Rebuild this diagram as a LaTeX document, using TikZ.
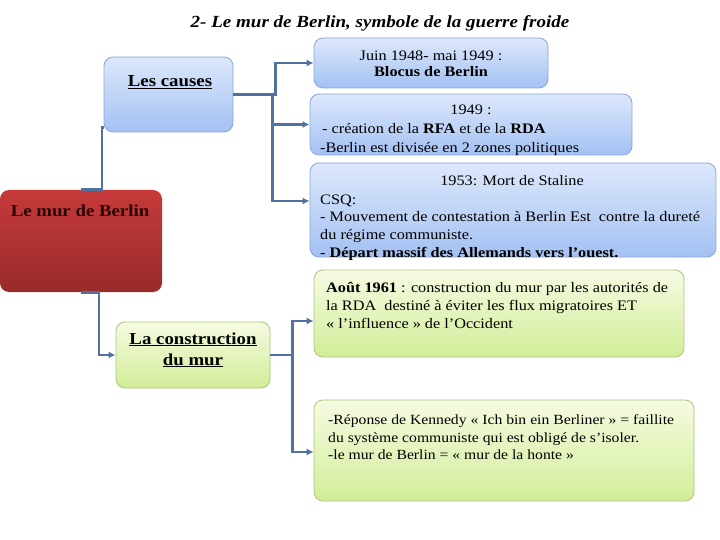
\documentclass[tikz,border=0pt]{standalone}
\usepackage{fontspec}
\setmainfont{Liberation Serif}[FakeStretch=1.12]
\usetikzlibrary{arrows.meta}
\definecolor{bluetop}{HTML}{DDE8FB}
\definecolor{bluebot}{HTML}{A3C1F3}
\definecolor{blueline}{HTML}{8AA6D6}
\definecolor{greentop}{HTML}{F6FBE2}
\definecolor{greenbot}{HTML}{D2ED98}
\definecolor{greenline}{HTML}{A9C67E}
\definecolor{redtop}{HTML}{C63A3A}
\definecolor{redbot}{HTML}{982B2B}
\definecolor{conncol}{HTML}{4F72A0}
\definecolor{redtext}{HTML}{2A0505}
\begin{document}
\begin{tikzpicture}[x=1pt,y=-1pt,
  box/.style={rounded corners=9pt, line width=0.8pt, inner sep=0pt},
  bluebox/.style={box, draw=blueline, top color=bluetop, bottom color=bluebot},
  greenbox/.style={box, draw=greenline, top color=greentop, bottom color=greenbot},
  redbox/.style={box, draw=none, top color=redtop, bottom color=redbot},
  conn/.style={draw=conncol, line width=2.2pt},
  arr/.style={conn, -{Latex[length=7pt,width=7pt]}},
  txt/.style={inner sep=0pt, anchor=base west, font=\fontsize{14.5}{18}\selectfont},
  ctxt/.style={txt, anchor=base},
  rtxt/.style={txt, font=\fontsize{14}{18}\selectfont},
  head/.style={inner sep=0pt, anchor=base, font=\fontsize{16.8}{20}\selectfont\bfseries}
]
\useasboundingbox (0,0) rectangle (720,540);

% title
\node[inner sep=0pt, anchor=base, font=\fontsize{17}{20}\selectfont\bfseries\itshape] (title) at (380,28) {2- Le mur de Berlin, symbole de la guerre froide};

% boxes
\node[bluebox, minimum width=129pt, minimum height=75pt] (causes) at (168.5,94.5) {};
\node[bluebox, minimum width=234pt, minimum height=50pt] (blocus) at (431,63) {};
\node[bluebox, minimum width=322pt, minimum height=61pt] (b1949) at (471,124.5) {};
\node[bluebox, minimum width=406pt, minimum height=94pt] (b1953) at (513,210) {};
\node[redbox, minimum width=162pt, minimum height=102pt] (red) at (81,241) {};
\node[greenbox, minimum width=154pt, minimum height=66pt] (constr) at (193,355) {};
\node[greenbox, minimum width=370pt, minimum height=87pt] (aout) at (499,313.5) {};
\node[greenbox, minimum width=380pt, minimum height=101pt] (rep) at (504,450.5) {};

% connectors
\draw[conn] (red.north) -- ++(21,0) |- ([yshift=-33pt]causes.west);
\draw[arr] (red.south) -- ++(18,0) |- (constr.west);
\draw[arr] (causes.east) -- ++(42,0) |- (blocus.west);
\draw[conn] (causes.east) -- ++(39,0) coordinate (j1);
\draw[arr] (j1) |- (b1949.west);
\draw[arr] (j1) |- ([yshift=9pt]b1953.west);
\draw[conn] (constr.east) -- ++(22,0) coordinate (j2);
\draw[arr] (j2) |- ([yshift=-7.5pt]aout.west);
\draw[arr] (j2) |- ([yshift=-1.5pt]rep.west);

% texts
\node[head] (tcauses) at (170,87) {\underline{Les causes}};
\node[head, text=redtext] (tred) at (80,216) {Le mur de Berlin};
\node[head] (tcon1) at (193,344) {\underline{La construction}};
\node[head] (tcon2) at (193,365) {\underline{du mur}};

\node[ctxt] (bl1) at (431,61) {Juin 1948- mai 1949 :};
\node[ctxt] (bl2) at (431,77) {\bfseries Blocus de Berlin};

\node[ctxt] (n1) at (471,115) {1949 :};
\node[txt] (n2) at (322,134) {- création de la \textbf{RFA} et de la \textbf{RDA}};
\node[txt] (n3) at (320,153) {-Berlin est divisée en 2 zones politiques};

\node[ctxt] (s1) at (512,186) {1953: Mort de Staline};
\node[txt] (s2) at (320,205) {CSQ:};
\node[txt] (s3) at (320,222) {- Mouvement de contestation à Berlin Est\ \ contre la dureté};
\node[txt] (s4) at (320,240) {du régime communiste.};
\node[txt] (s5) at (320,257) {\bfseries - Départ massif des Allemands vers l’ouest.};

\node[txt] (a1) at (326,292) {\textbf{Août 1961} : construction du mur par les autorités de};
\node[txt] (a2) at (326,310) {la RDA\ \ destiné à éviter les flux migratoires ET};
\node[txt] (a3) at (326,328) {« l’influence » de l’Occident};

\node[rtxt] (r1) at (328,424) {-Réponse de Kennedy « Ich bin ein Berliner » = faillite};
\node[rtxt] (r2) at (328,442) {du système communiste qui est obligé de s’isoler.};
\node[rtxt] (r3) at (328,459) {-le mur de Berlin = « mur de la honte »};
\end{tikzpicture}
\end{document}
